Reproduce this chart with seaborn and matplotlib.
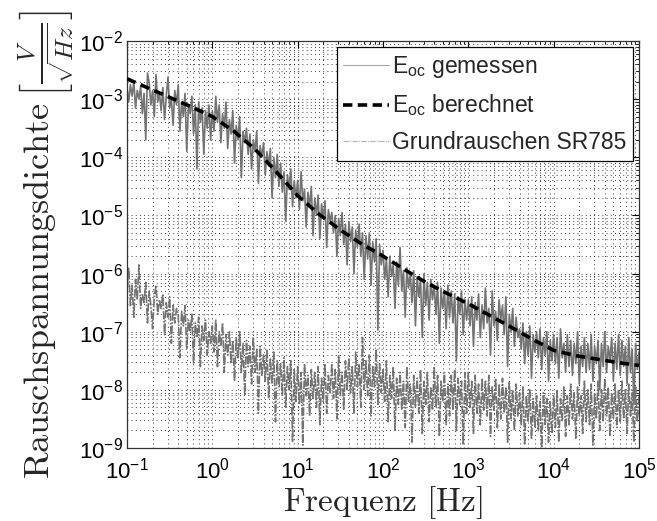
import numpy as np
import pandas as pd
import matplotlib
matplotlib.use("Agg")
import matplotlib.pyplot as plt
import seaborn as sns
from matplotlib.ticker import LogLocator

# measurement grid: 0.1 Hz .. 100 kHz, 50 points per decade
freq = np.logspace(-1, 5, 301)

# E_oc gemessen -- exponents (log10 of V/sqrt(Hz))
meas_exp = [
    -2.80, -3.05, -2.75, -2.95, -2.70, -3.15, -2.85, -3.00, -2.78, -3.25,
    -2.90, -3.70, -2.55, -2.72, -3.10, -2.85, -3.30, -2.58, -3.05, -2.90,
    -3.20, -2.80, -3.35, -2.95, -2.62, -3.15, -3.00, -3.45, -2.85, -3.10,
    -2.75, -3.55, -3.05, -3.30, -2.90, -3.90, -3.10, -3.25, -2.95, -3.60,
    -3.10, -4.20, -3.05, -3.40, -3.15, -3.95, -3.20, -3.50, -3.10, -3.70,
    -3.20, -3.55, -2.95, -3.40, -3.10, -3.75, -3.25, -3.50, -3.05, -3.85,
    -3.35, -3.60, -3.20, -4.10, -3.45, -3.70, -3.30, -4.35, -3.55, -3.75,
    -3.50, -3.95, -3.60, -4.20, -3.70, -3.90, -3.55, -4.45, -3.80, -4.00,
    -3.75, -4.30, -3.90, -4.15, -3.85, -4.70, -4.00, -4.35, -3.95, -4.50,
    -4.10, -4.60, -4.25, -5.10, -4.30, -4.55, -4.20, -4.85, -4.40, -4.70,
    -4.40, -4.90, -4.25, -4.75, -4.55, -5.20, -4.60, -4.85, -4.50, -5.35,
    -4.70, -5.00, -4.65, -5.40, -4.80, -5.05, -4.75, -5.55, -4.90, -5.10,
    -4.95, -5.30, -5.00, -5.70, -5.05, -5.35, -4.95, -5.50, -5.15, -5.85,
    -5.10, -5.45, -5.20, -6.00, -5.25, -5.55, -5.15, -5.70, -5.30, -6.10,
    -5.35, -5.75, -5.30, -6.20, -5.45, -5.80, -5.40, -6.97, -5.50, -5.85,
    -5.60, -6.10, -5.75, -6.40, -5.70, -6.05, -5.85, -6.60, -5.80, -6.20,
    -5.55, -6.30, -5.95, -6.75, -5.90, -6.25, -6.00, -6.50, -5.95, -6.90,
    -6.05, -6.40, -6.10, -7.10, -6.00, -6.55, -6.15, -6.80, -6.10, -6.45,
    -6.20, -6.70, -6.15, -7.20, -6.25, -6.60, -6.30, -6.95, -6.20, -6.75,
    -6.30, -6.85, -6.35, -7.50, -6.40, -6.70, -6.30, -7.05, -6.45, -6.80,
    -6.45, -6.90, -6.40, -7.25, -6.50, -6.80, -6.35, -7.10, -6.55, -6.95,
    -6.25, -6.85, -6.60, -7.40, -6.30, -6.90, -6.65, -7.15, -6.45, -6.80,
    -6.55, -7.05, -6.40, -7.60, -6.70, -7.00, -6.60, -7.25, -6.75, -7.10,
    -6.95, -7.30, -6.85, -7.55, -7.00, -7.40, -6.90, -7.80, -7.05, -7.35,
    -7.00, -7.45, -6.95, -7.65, -7.10, -7.40, -7.00, -7.85, -7.15, -7.50,
    -7.05, -7.55, -7.10, -7.80, -6.95, -7.45, -7.20, -7.70, -7.05, -7.60,
    -7.15, -7.75, -7.20, -7.55, -7.00, -7.90, -7.25, -7.60, -7.10, -7.70,
    -7.20, -7.65, -7.05, -7.85, -7.25, -7.55, -7.15, -8.00, -7.20, -7.60,
    -7.00, -7.70, -7.25, -7.50, -7.10, -7.85, -7.20, -7.65, -7.05, -7.75,
    -7.15, -7.60, -7.25, -7.90, -7.10, -7.70, -7.30, -8.25, -7.20, -7.65,
    -7.35,
]

# Grundrauschen SR785 -- exponents
floor_exp = [
    -6.30, -5.90, -6.55, -6.20, -6.75, -6.10, -6.45, -5.85, -6.60, -6.35,
    -6.50, -6.15, -6.85, -6.30, -6.55, -6.95, -6.40, -6.20, -6.70, -6.45,
    -6.60, -6.35, -7.05, -6.50, -6.75, -6.40, -7.20, -6.55, -6.85, -6.60,
    -6.70, -7.45, -6.65, -6.90, -6.55, -7.30, -6.80, -7.00, -6.70, -7.55,
    -6.85, -7.10, -6.75, -7.60, -6.90, -7.15, -6.80, -7.40, -7.00, -7.20,
    -6.90, -7.35, -6.80, -7.60, -7.00, -7.25, -6.85, -7.70, -7.05, -7.40,
    -7.00, -7.55, -7.15, -7.85, -7.10, -7.45, -7.00, -7.70, -7.20, -8.10,
    -7.15, -7.60, -7.25, -7.90, -7.10, -7.70, -7.30, -8.40, -7.25, -7.75,
    -7.40, -7.85, -7.30, -8.15, -7.45, -7.90, -7.35, -8.55, -7.50, -7.95,
    -7.55, -8.10, -7.45, -8.30, -7.60, -8.00, -7.50, -8.90, -7.65, -8.20,
    -7.60, -8.25, -7.70, -8.95, -7.55, -8.10, -7.75, -8.45, -7.65, -8.15,
    -7.70, -8.30, -7.60, -8.60, -7.80, -8.20, -7.55, -8.40, -7.75, -8.05,
    -7.55, -8.15, -7.65, -8.50, -7.40, -8.10, -7.70, -8.35, -7.50, -8.00,
    -7.45, -8.05, -7.60, -8.40, -7.35, -7.95, -7.55, -8.30, -7.10, -8.00,
    -7.50, -8.10, -7.40, -8.45, -7.60, -7.95, -7.30, -8.25, -7.55, -8.05,
    -7.65, -8.20, -7.50, -8.55, -7.75, -8.15, -7.60, -8.70, -7.80, -8.25,
    -7.70, -8.35, -7.85, -8.65, -7.60, -8.20, -7.90, -8.90, -7.75, -8.30,
    -7.80, -8.40, -7.65, -8.75, -7.85, -8.25, -7.70, -8.55, -7.95, -8.35,
    -7.60, -8.30, -7.75, -8.80, -7.85, -8.20, -7.70, -8.60, -7.90, -8.45,
    -7.75, -8.35, -7.65, -8.70, -7.80, -8.25, -7.85, -8.95, -7.70, -8.40,
    -7.70, -8.30, -7.85, -8.75, -7.75, -8.40, -7.90, -8.60, -7.80, -8.35,
    -7.85, -8.45, -7.75, -8.80, -7.95, -8.35, -7.80, -8.65, -7.90, -8.50,
    -7.80, -8.40, -7.95, -8.90, -7.85, -8.50, -8.00, -8.70, -7.90, -8.45,
    -8.05, -8.60, -7.95, -8.95, -8.10, -8.55, -8.00, -8.85, -8.15, -8.65,
    -8.10, -8.70, -8.20, -9.00, -8.05, -8.60, -8.15, -8.90, -8.20, -8.75,
    -8.10, -8.65, -8.00, -8.90, -8.15, -8.55, -7.95, -8.80, -8.10, -8.60,
    -7.90, -8.50, -8.05, -8.85, -7.95, -8.45, -8.10, -8.75, -7.85, -8.55,
    -8.00, -8.60, -7.90, -8.95, -8.05, -8.50, -7.85, -8.70, -8.00, -8.55,
    -7.80, -8.45, -7.95, -8.80, -8.05, -8.50, -7.90, -8.65, -8.00, -8.55,
    -7.85, -8.50, -8.00, -8.75, -7.90, -8.45, -8.05, -8.90, -7.95, -8.55,
    -8.10,
]

# E_oc berechnet
calc_freq = [0.1, 0.178, 0.316, 0.562, 1, 1.78, 3.16, 5.62, 10, 17.8, 31.6, 56.2,
             100, 178, 316, 562, 1e3, 1.78e3, 3.16e3, 5.62e3, 1e4, 1.78e4, 3.16e4,
             5.62e4, 1e5]
calc_exp = [-2.65, -2.81, -2.97, -3.13, -3.30, -3.55, -3.86, -4.25, -4.66, -4.98,
            -5.25, -5.49, -5.70, -5.93, -6.15, -6.34, -6.52, -6.72, -6.92, -7.13,
            -7.32, -7.41, -7.47, -7.53, -7.58]

labels = [r"E$_{\mathrm{oc}}$ gemessen", r"E$_{\mathrm{oc}}$ berechnet",
          "Grundrauschen SR785"]

meas_df = pd.DataFrame({"f": freq, "v": 10.0 ** np.array(meas_exp)})
floor_df = pd.DataFrame({"f": freq, "v": 10.0 ** np.array(floor_exp)})
calc_df = pd.DataFrame({"f": calc_freq, "v": 10.0 ** np.array(calc_exp)})

sns.set_style("white")
plt.rcParams["font.family"] = ["Liberation Sans", "DejaVu Sans"]
plt.rcParams["mathtext.fontset"] = "custom"
plt.rcParams["mathtext.rm"] = "Liberation Sans"
plt.rcParams["mathtext.it"] = "Liberation Sans:italic"
plt.rcParams["axes.unicode_minus"] = False

fig = plt.figure(figsize=(6.57, 5.21), dpi=100)
ax = fig.add_axes([127 / 657, 1 - 448 / 521, 512 / 657, 407 / 521])

sns.lineplot(data=meas_df, x="f", y="v", ax=ax, color="0.45", lw=1.2,
             estimator=None, sort=False, label=labels[0])
sns.lineplot(data=calc_df, x="f", y="v", ax=ax, color="k", lw=2.6,
             linestyle=(0, (2.6, 1.5)), estimator=None, sort=False,
             label=labels[1], zorder=4)
sns.lineplot(data=floor_df, x="f", y="v", ax=ax, color="0.45", lw=1.2,
             linestyle=(0, (5, 1.0, 1, 1.0)), estimator=None, sort=False,
             label=labels[2])

ax.set_xscale("log")
ax.set_yscale("log")
ax.set_xlim(1e-1, 1e5)
ax.set_ylim(1e-9, 1e-2)
ax.xaxis.set_major_locator(LogLocator(base=10, numticks=20))
ax.yaxis.set_major_locator(LogLocator(base=10, numticks=20))
ax.xaxis.set_minor_locator(LogLocator(base=10, subs=range(2, 10), numticks=100))
ax.yaxis.set_minor_locator(LogLocator(base=10, subs=range(2, 10), numticks=100))

ax.grid(True, which="both", linestyle=(0, (1, 4)), color="k", linewidth=0.6)
ax.tick_params(which="both", direction="in", top=True, right=True,
               labelsize=16, colors="k")
ax.tick_params(axis="x", which="major", length=5, pad=7)
ax.tick_params(axis="y", which="major", length=5, pad=3)
ax.tick_params(which="minor", length=2.5)
for s in ax.spines.values():
    s.set_color("0.2")
    s.set_linewidth(0.9)

ax.set_xlabel(r"$\mathrm{Frequenz\ [Hz]}$", fontsize=24, math_fontfamily="cm",
              labelpad=0)
ax.set_ylabel(r"$\mathrm{Rauschspannungsdichte}\,\left[\frac{V}{\sqrt{Hz}}\right]$",
              fontsize=26, math_fontfamily="cm", labelpad=1)

leg = ax.legend(loc="upper right", bbox_to_anchor=(0.988, 0.985),
                borderaxespad=0, fontsize=16.5, frameon=True, fancybox=False,
                framealpha=1, edgecolor="k", handlelength=2.0,
                handletextpad=0.1, borderpad=0.3, labelspacing=0.55)
leg.get_frame().set_linewidth(0.9)
leg.get_lines()[0].set_color("0.65")
leg.get_lines()[0].set_linewidth(0.8)
leg.get_lines()[2].set_color("0.7")
leg.get_lines()[2].set_linewidth(0.8)

fig.savefig("out.png", dpi=100)
